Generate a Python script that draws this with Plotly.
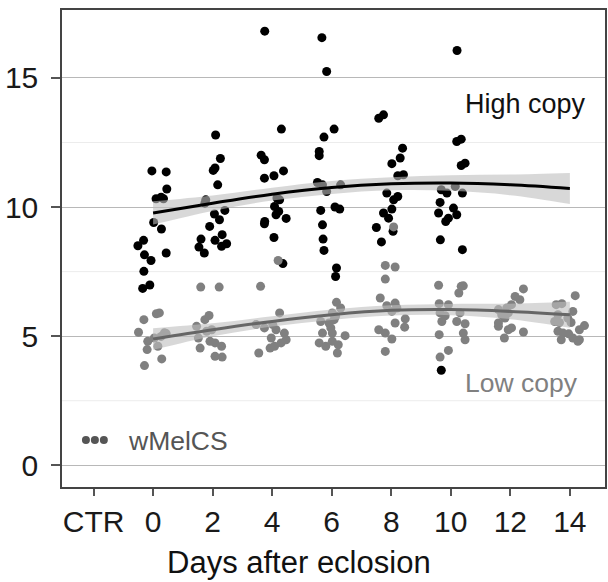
import plotly.graph_objects as go

# ---------------- data ----------------
# High copy: day, jitter offset (days), value
high_day = [0]*16 + [2]*18 + [4]*17 + [6]*18 + [8]*16 + [10]*18
high_off = [-0.04, 0.44, 0.46, 0.10, 0.27, 0.35, 0.02, 0.28, -0.51, -0.32, -0.29, -0.07, 0.44, -0.31, -0.35, -0.11,
            0.10, 0.26, 0.08, 0.02, 0.17, -0.23, -0.26, 0.41, 0.06, 0.23, -0.10, -0.39, -0.46, -0.28, 0.08, 0.32, 0.30, 0.47,
            -0.25, 0.31, -0.37, -0.26, -0.26, 0.06, 0.38, 0.16, 0.25, 0.08, 0.22, 0.13, 0.47, -0.25, -0.26, 0.06, 0.36,
            -0.33, -0.17, 0.08, -0.26, -0.42, -0.42, -0.48, -0.31, -0.17, 0.30, -0.37, 0.11, 0.27, -0.31, -0.29, -0.26, 0.16, 0.13,
            -0.42, -0.26, 0.38, 0.30, 0.02, 0.22, 0.41, -0.15, 0.22, 0.08, -0.26, 0.02, -0.09, -0.50, 0.06, -0.33,
            0.21, 0.20, 0.35, 0.35, 0.48, -0.32, -0.13, -0.36, 0.15, 0.39, -0.41, -0.08, 0.09, 0.20, -0.17, -0.35, 0.39, -0.32]
high_val = [11.40, 11.36, 10.70, 10.32, 10.38, 10.32, 9.40, 9.15, 8.50, 8.71, 8.15, 7.93, 8.22, 7.51, 6.85, 6.98,
            12.79, 11.88, 11.51, 11.42, 10.86, 10.28, 10.15, 9.87, 9.73, 9.51, 9.25, 8.76, 8.45, 8.22, 8.71, 8.93, 8.48, 8.58,
            16.81, 13.02, 12.01, 11.83, 11.12, 11.21, 11.40, 10.35, 10.28, 10.02, 9.83, 9.70, 9.56, 9.44, 9.35, 8.82, 7.81,
            16.56, 15.25, 13.02, 12.71, 12.15, 11.99, 10.95, 10.86, 10.60, 10.86, 9.87, 10.00, 9.92, 9.31, 8.76, 8.32, 7.64, 7.31,
            13.44, 13.57, 12.28, 11.90, 11.68, 11.21, 11.25, 10.54, 10.41, 10.28, 9.77, 9.92, 9.57, 9.21, 9.06, 8.65,
            16.06, 12.54, 12.63, 11.61, 11.70, 10.67, 10.54, 10.18, 10.80, 10.54, 9.77, 9.57, 9.96, 9.70, 9.44, 8.73, 8.35, 3.68]

# Low copy
low_day = [0]*13 + [2]*14 + [4]*14 + [6]*16 + [8]*16 + [10]*17 + [12]*15 + [14]*18
low_off = [-0.31, 0.11, 0.21, -0.49, 0.38, 0.44, 0.27, 0.04, -0.18, -0.20, 0.16, 0.29, -0.29,
           -0.40, 0.22, -0.12, -0.26, -0.54, -0.20, -0.03, -0.48, -0.09, -0.42, 0.08, 0.30, 0.08, 0.32,
           0.20, -0.39, 0.25, -0.54, -0.26, 0.02, 0.13, -0.03, 0.41, 0.47, 0.30, -0.07, 0.08, -0.45,
           0.16, 0.30, 0.02, 0.13, -0.37, -0.09, 0.08, -0.03, -0.31, 0.02, 0.45, -0.42, -0.20, 0.02, 0.22, 0.19,
           0.08, -0.20, 0.13, -0.20, -0.37, 0.13, -0.15, 0.02, 0.19, 0.47, 0.13, -0.42, -0.20, 0.02, -0.20, 0.45,
           -0.41, 0.35, 0.42, 0.27, -0.39, -0.08, -0.36, -0.19, -0.30, 0.31, 0.20, 0.48, -0.39, 0.42, 0.48, -0.08, -0.36,
           0.44, 0.16, 0.32, 0.04, -0.12, -0.40, -0.07, -0.29, -0.18, -0.40, 0.04, -0.07, 0.44, -0.20, -0.40,
           0.18, -0.46, -0.27, 0.10, -0.40, -0.07, -0.51, -0.35, 0.04, 0.49, 0.32, -0.40, -0.23, -0.04, -0.29, 0.10, 0.32, 0.27]
low_val = [5.64, 5.87, 5.90, 5.15, 5.13, 5.10, 4.99, 4.93, 4.80, 4.48, 4.61, 4.12, 3.86,
           6.90, 6.90, 5.80, 5.64, 5.38, 5.19, 5.25, 4.93, 4.80, 4.54, 4.74, 4.61, 4.22, 4.19,
           7.93, 6.93, 5.90, 5.45, 5.32, 5.45, 5.25, 4.93, 5.12, 4.86, 4.74, 4.54, 4.61, 4.35,
           6.31, 6.09, 5.90, 5.77, 5.57, 5.51, 5.64, 5.32, 5.12, 5.12, 5.02, 4.74, 4.61, 4.80, 4.67, 4.35,
           9.23, 7.74, 7.68, 7.21, 6.48, 6.28, 6.18, 5.96, 6.09, 5.67, 5.51, 5.25, 5.12, 4.89, 4.41, 5.35,
           6.97, 6.93, 6.95, 6.67, 6.26, 6.22, 5.90, 5.79, 5.57, 5.90, 5.57, 5.48, 5.06, 5.12, 4.86, 4.45, 4.19,
           6.83, 6.54, 6.41, 6.22, 6.09, 6.03, 5.90, 5.83, 5.70, 5.51, 5.32, 5.25, 5.16, 4.93, 5.38,
           6.57, 6.22, 6.26, 5.96, 5.83, 5.70, 5.57, 5.53, 5.53, 5.41, 5.25, 5.19, 5.12, 5.09, 4.86, 4.93, 4.86, 4.80]

# Smooth fits (loess-like) with confidence band half-widths
fit_day = [0, 2, 4, 6, 8, 10, 12, 14]
high_fit = [9.77, 10.15, 10.50, 10.76, 10.90, 10.93, 10.86, 10.72]
high_hw = [0.45, 0.30, 0.25, 0.25, 0.25, 0.30, 0.40, 0.60]
low_fit = [4.89, 5.25, 5.57, 5.83, 6.00, 6.03, 5.96, 5.83]
low_hw = [0.42, 0.25, 0.20, 0.20, 0.20, 0.22, 0.30, 0.50]

tick_vals = [-2, 0, 2, 4, 6, 8, 10, 12, 14]
tick_text = ["CTR", "0", "2", "4", "6", "8", "10", "12", "14"]
y_ticks = [0, 5, 10, 15]

FONT = "Liberation Sans, Arial, sans-serif"
HIGH_COL = "#000000"
LOW_COL = "#808080"

fig = go.Figure()

fig.add_trace(go.Scatter(
    x=[d + o for d, o in zip(high_day, high_off)], y=high_val, mode="markers",
    marker=dict(color=HIGH_COL, size=9, line=dict(width=0)), showlegend=False, hoverinfo="skip"))
fig.add_trace(go.Scatter(
    x=[d + o for d, o in zip(low_day, low_off)], y=low_val, mode="markers",
    marker=dict(color=LOW_COL, size=9, line=dict(width=0)), showlegend=False, hoverinfo="skip"))

for fit, hw, col in [(high_fit, high_hw, HIGH_COL), (low_fit, low_hw, "#666666")]:
    upper = [f + h for f, h in zip(fit, hw)]
    lower = [f - h for f, h in zip(fit, hw)]
    fig.add_trace(go.Scatter(x=fit_day, y=lower, mode="lines",
                             line=dict(width=0, shape="spline", color="rgba(0,0,0,0)"),
                             showlegend=False, hoverinfo="skip"))
    fig.add_trace(go.Scatter(x=fit_day, y=upper, mode="lines", fill="tonexty",
                             fillcolor="rgba(190,190,190,0.6)",
                             line=dict(width=0, shape="spline", color="rgba(0,0,0,0)"),
                             showlegend=False, hoverinfo="skip"))
    fig.add_trace(go.Scatter(x=fit_day, y=fit, mode="lines",
                             line=dict(color=col, width=3, shape="spline"),
                             showlegend=False, hoverinfo="skip"))

# minor gridlines
for v in [2.5, 7.5, 12.5]:
    fig.add_shape(type="line", xref="paper", yref="y", x0=0, x1=1, y0=v, y1=v,
                  line=dict(color="#ececec", width=1), layer="below")

fig.update_layout(
    width=608, height=582,
    margin=dict(l=62, r=1, t=10, b=95),
    paper_bgcolor="white", plot_bgcolor="white",
    font=dict(family=FONT, color="#222222"),
    showlegend=False,
    xaxis=dict(range=[-3.06, 15.18], tickvals=tick_vals, ticktext=tick_text,
               showgrid=False, zeroline=False, showline=True, mirror=True,
               linecolor="#444444", linewidth=1.5, ticks="outside", ticklen=7,
               tickcolor="#555555", tickwidth=1.5,
               tickfont=dict(size=30, color="#1a1a1a", family=FONT)),
    yaxis=dict(range=[-0.84, 17.63], tickvals=y_ticks, showgrid=True,
               gridcolor="#b8b8b8", gridwidth=1.3, zeroline=False,
               showline=True, mirror=True, linecolor="#444444", linewidth=1.5,
               ticks="outside", ticklen=9, tickcolor="#555555", tickwidth=1.5,
               ticklabelstandoff=7,
               tickfont=dict(size=30, color="#1a1a1a", family=FONT)),
)

# legend key (three dots) and text
for px in [86, 95, 104]:
    fig.add_shape(type="circle", xref="paper", yref="paper",
                  xsizemode="pixel", ysizemode="pixel",
                  xanchor=(px - 62) / 545, yanchor=(487 - 440) / 477,
                  x0=-4, x1=4, y0=-4, y1=4,
                  fillcolor="#555555", line=dict(width=0))
fig.add_annotation(x=(126 - 62) / 545, y=(487 - 441) / 477, xref="paper", yref="paper",
                   text="wMelCS", showarrow=False, xanchor="left", yanchor="middle",
                   font=dict(size=26.5, color="#555555", family=FONT))

fig.add_annotation(x=12.5, y=14.0, xref="x", yref="y", text="High copy", showarrow=False,
                   xanchor="center", yanchor="middle",
                   font=dict(size=27, color="#111111", family=FONT))
fig.add_annotation(x=12.38, y=3.2, xref="x", yref="y", text="Low copy", showarrow=False,
                   xanchor="center", yanchor="middle",
                   font=dict(size=26.5, color="#808080", family=FONT))

fig.add_annotation(x=(299.5 - 62) / 545, y=(487 - 562) / 477, xref="paper", yref="paper",
                   text="Days after eclosion", showarrow=False, xanchor="center", yanchor="middle",
                   font=dict(size=31, color="#111111", family=FONT))

fig.write_html("out.html")
